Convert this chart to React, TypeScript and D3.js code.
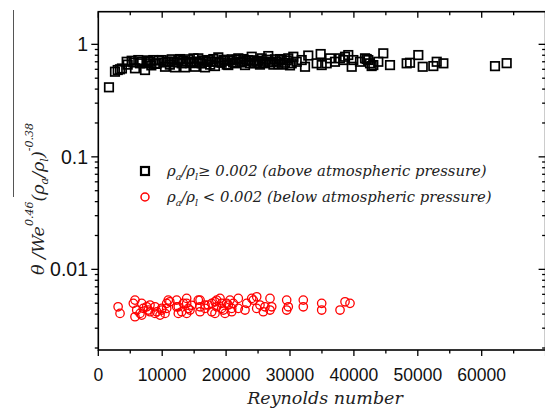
import React from "react";
import * as d3 from "d3";

// Reynolds number vs. normalised angle, ambient density ratio >= 0.002
const aboveAtm: [number, number][] = [
  [1670, 0.415], [2610, 0.571], [3040, 0.591], [3400, 0.6], [3700, 0.61],
  [4440, 0.7], [4600, 0.66], [5220, 0.715], [5740, 0.612], [5500, 0.69],
  [6260, 0.725], [6530, 0.678], [6800, 0.7], [7310, 0.591], [7570, 0.678],
  [7800, 0.72], [8090, 0.7], [8300, 0.65], [8610, 0.725], [8900, 0.67],
  [9140, 0.678], [9500, 0.72], [9920, 0.725], [10200, 0.69], [10440, 0.632],
  [10700, 0.7], [10950, 0.7], [11200, 0.66], [11490, 0.736], [11800, 0.7],
  [12000, 0.624], [12300, 0.69], [12520, 0.725], [12800, 0.74], [13050, 0.678],
  [13300, 0.71], [13570, 0.624], [13800, 0.7], [14080, 0.736], [14350, 0.68],
  [14620, 0.7], [14900, 0.75], [15130, 0.632], [15400, 0.7], [15650, 0.751],
  [15900, 0.68], [16180, 0.678], [16400, 0.72], [16700, 0.624], [16950, 0.7],
  [17210, 0.725], [17500, 0.66], [17750, 0.7], [18000, 0.74], [18260, 0.641],
  [18500, 0.7], [18780, 0.766], [19000, 0.69], [19310, 0.686], [19600, 0.73],
  [19830, 0.715], [20100, 0.66], [20340, 0.654], [20600, 0.72], [20880, 0.736],
  [21100, 0.69], [21390, 0.678], [21650, 0.73], [21910, 0.751], [22200, 0.69],
  [22440, 0.7], [22700, 0.74], [22960, 0.654], [23200, 0.71], [23470, 0.725],
  [23750, 0.68], [24010, 0.776], [24300, 0.72], [24520, 0.678], [24800, 0.7],
  [25040, 0.715], [25300, 0.66], [25570, 0.751], [25800, 0.7], [26090, 0.678],
  [26350, 0.73], [26600, 0.787], [26850, 0.69], [27140, 0.7], [27400, 0.66],
  [27650, 0.736], [27900, 0.7], [28170, 0.668], [28450, 0.74], [28700, 0.725],
  [28950, 0.66], [29220, 0.686], [29500, 0.72], [29730, 0.751], [30000, 0.65],
  [30270, 0.678], [30520, 0.776], [31050, 0.7], [31830, 0.725], [32350, 0.632],
  [32860, 0.795], [34180, 0.678], [34800, 0.82], [34960, 0.654], [35740, 0.678],
  [36260, 0.751], [37040, 0.7], [37830, 0.751], [38340, 0.725], [38610, 0.776],
  [39120, 0.803], [39660, 0.632], [39910, 0.725], [40950, 0.7], [41740, 0.751],
  [42000, 0.74], [42250, 0.725], [42520, 0.678], [42780, 0.641], [43040, 0.654],
  [43820, 0.7], [44600, 0.832], [45650, 0.654], [48260, 0.678], [48780, 0.686],
  [50080, 0.803], [50770, 0.632], [52430, 0.641], [52960, 0.7], [54000, 0.678],
  [62080, 0.64], [63910, 0.68],
];

// Ambient density ratio < 0.002
const belowAtm: [number, number][] = [
  [3100, 0.00465], [3400, 0.00406],
  [5480, 0.00499], [5740, 0.00379], [5740, 0.00533], [6010, 0.00435], [6530, 0.00406],
  [6790, 0.00499], [6790, 0.00392], [7040, 0.0045], [7570, 0.00465], [7830, 0.00435],
  [8090, 0.0042], [8090, 0.00482], [8870, 0.00465], [8870, 0.00406], [9140, 0.0042],
  [9660, 0.00392], [9920, 0.00435], [9920, 0.0045], [10440, 0.00406], [10700, 0.00499],
  [10700, 0.0045], [10950, 0.00533], [11200, 0.00515], [12270, 0.00533], [12270, 0.00465],
  [12520, 0.00465], [12520, 0.00406], [13050, 0.0042], [13300, 0.00499], [13830, 0.00552],
  [13830, 0.00499], [14080, 0.0045], [13830, 0.00406], [14350, 0.00435], [14600, 0.0048],
  [15650, 0.00533], [15920, 0.00533], [15920, 0.00465], [15920, 0.0042], [16700, 0.0045],
  [16700, 0.00482], [17210, 0.00482], [17750, 0.00499], [17750, 0.0042], [18260, 0.00515],
  [18530, 0.00465], [18260, 0.00406], [18530, 0.00533], [19050, 0.00552], [19310, 0.00499],
  [19310, 0.0045], [19560, 0.00435], [19830, 0.00406], [20090, 0.00499], [20340, 0.00482],
  [20610, 0.00533], [20880, 0.0045], [20880, 0.0042], [21130, 0.00499], [21910, 0.00552],
  [21910, 0.0045], [22960, 0.00435], [23220, 0.00499], [24010, 0.00552], [24260, 0.00533],
  [24790, 0.00571], [24790, 0.0045], [25300, 0.00482], [25820, 0.0042], [26090, 0.00465],
  [26870, 0.00552], [27140, 0.00465], [26870, 0.00435], [29480, 0.00533], [29730, 0.00465],
  [29480, 0.00435], [32080, 0.00533], [32080, 0.00465], [34960, 0.00499], [34960, 0.00435],
  [37830, 0.00435], [38610, 0.00515], [39390, 0.00499],
];

const xMajorTicks = [0, 10000, 20000, 30000, 40000, 50000, 60000, 70000];
const xMinorTicks = [5000, 15000, 25000, 35000, 45000, 55000, 65000];
const xTickLabels = ["0", "10000", "20000", "30000", "40000", "50000", "60000", ""];
const yMajorTicks = [0.01, 0.1, 1];
const yTickLabels = ["0.01", "0.1", "1"];
const yMinorTicks = [
  0.002, 0.003, 0.004, 0.005, 0.006, 0.007, 0.008, 0.009,
  0.02, 0.03, 0.04, 0.05, 0.06, 0.07, 0.08, 0.09,
  0.2, 0.3, 0.4, 0.5, 0.6, 0.7, 0.8, 0.9,
];

const W = 545;
const H = 414;
const left = 98.3;
const right = 545.6;
const top = 11.7;
const bottom = 350;

const x = d3.scaleLinear().domain([0, 70000]).range([left, right]);
const y = d3.scaleLog().domain([0.00192, 1.95]).range([bottom, top]);

const sans = "'Liberation Sans', Arial, sans-serif";
const serif = "'DejaVu Serif', 'Liberation Serif', serif";

export default function App() {
  const sq = 8.5;
  return (
    <svg
      width={W}
      height={H}
      viewBox={`0 0 ${W} ${H}`}
      style={{ position: "absolute", left: 0, top: 0, background: "#fff" }}
    >
      <rect x={0} y={0} width={W} height={H} fill="#fff" />

      {/* markers */}
      <g fill="none" stroke="#000" strokeWidth={1.7}>
        {aboveAtm.map(([re, v], i) => (
          <rect key={i} x={x(re) - sq / 2} y={y(v) - sq / 2} width={sq} height={sq} />
        ))}
      </g>
      <g fill="none" stroke="#ff0000" strokeWidth={1.3}>
        {belowAtm.map(([re, v], i) => (
          <circle key={i} cx={x(re)} cy={y(v)} r={4.2} />
        ))}
      </g>

      {/* frame */}
      <rect
        x={left}
        y={top}
        width={right - left}
        height={bottom - top}
        fill="none"
        stroke="#000"
        strokeWidth={1.6}
      />

      {/* x ticks: outward at bottom, inward at top; y ticks outward left, inward right */}
      <g stroke="#000" strokeWidth={1.3}>
        {xMajorTicks.map((t) => (
          <g key={"xM" + t}>
            <line x1={x(t)} x2={x(t)} y1={bottom} y2={bottom + 6} />
            <line x1={x(t)} x2={x(t)} y1={top} y2={top + 6} />
          </g>
        ))}
        {xMinorTicks.map((t) => (
          <g key={"xm" + t}>
            <line x1={x(t)} x2={x(t)} y1={bottom} y2={bottom + 3.5} />
            <line x1={x(t)} x2={x(t)} y1={top} y2={top + 3.5} />
          </g>
        ))}
        {yMajorTicks.map((t) => (
          <g key={"yM" + t}>
            <line x1={left - 7} x2={left} y1={y(t)} y2={y(t)} />
            <line x1={right - 7} x2={right} y1={y(t)} y2={y(t)} />
          </g>
        ))}
        {yMinorTicks.map((t) => (
          <g key={"ym" + t}>
            <line x1={left - 3.5} x2={left} y1={y(t)} y2={y(t)} />
            <line x1={right - 3.5} x2={right} y1={y(t)} y2={y(t)} />
          </g>
        ))}
      </g>

      {/* tick labels */}
      <g fontFamily={sans} fill="#111">
        {xMajorTicks.map((t, i) => (
          <text key={"xl" + t} x={x(t)} y={381} textAnchor="middle" fontSize={17.5}>
            {xTickLabels[i]}
          </text>
        ))}
        {yMajorTicks.map((t, i) => (
          <text key={"yl" + t} x={88} y={y(t)} dy="0.36em" textAnchor="end" fontSize={19.5}>
            {yTickLabels[i]}
          </text>
        ))}
      </g>

      {/* axis titles */}
      <text
        x={325}
        y={404}
        textAnchor="middle"
        fontFamily={serif}
        fontStyle="italic"
        fontSize={17.5}
        fill="#222"
      >
        Reynolds number
      </text>

      <line x1={13.5} x2={13.5} y1={10} y2={197} stroke="#555" strokeWidth={1} />
      <g transform="translate(44,199) rotate(-90)">
        <text
          x={0}
          y={0}
          textAnchor="middle"
          fontFamily={serif}
          fontStyle="italic"
          fontSize={17.5}
          fill="#222"
        >
          <tspan>θ /We</tspan>
          <tspan fontSize={11} dy={-11}>0.46</tspan>
          <tspan dy={11}>(ρ</tspan>
          <tspan fontSize={11} dy={4}>a</tspan>
          <tspan dy={-4}>/ρ</tspan>
          <tspan fontSize={11} dy={4}>l</tspan>
          <tspan dy={-4}>)</tspan>
          <tspan fontSize={11} dy={-11}>-0.38</tspan>
        </text>
      </g>

      {/* legend */}
      <rect x={145 - 4} y={171 - 4} width={8} height={8} fill="none" stroke="#000" strokeWidth={2.2} />
      <circle cx={145} cy={197} r={4} fill="none" stroke="#ff0000" strokeWidth={1.5} />
      <g fontFamily={serif} fontStyle="italic" fontSize={14.8} fill="#222">
        <text x={167} y={176}>
          <tspan>ρ</tspan>
          <tspan fontSize={9.5} dy={4}>a</tspan>
          <tspan dy={-4}>/ρ</tspan>
          <tspan fontSize={9.5} dy={4}>l</tspan>
          <tspan dy={-4}>{"≥  0.002 (above atmospheric pressure)"}</tspan>
        </text>
        <text x={167} y={202}>
          <tspan>ρ</tspan>
          <tspan fontSize={9.5} dy={4}>a</tspan>
          <tspan dy={-4}>/ρ</tspan>
          <tspan fontSize={9.5} dy={4}>l</tspan>
          <tspan dy={-4}>{" <  0.002 (below atmospheric pressure)"}</tspan>
        </text>
      </g>
    </svg>
  );
}
